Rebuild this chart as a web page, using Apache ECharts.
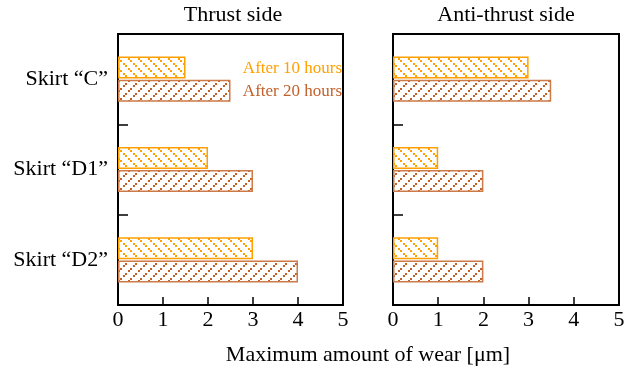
<!DOCTYPE html>
<html>
<head>
<meta charset="utf-8">
<style>
  html, body { margin: 0; padding: 0; background: #fff; }
  #chart { width: 636px; height: 372px; }
</style>
<script src="https://cdn.jsdelivr.net/npm/echarts@6/dist/echarts.min.js"></script>
</head>
<body>
<div id="chart"></div>
<script>
// Skirt variants (top to bottom)
const categories = ['Skirt \u201cC\u201d', 'Skirt \u201cD1\u201d', 'Skirt \u201cD2\u201d'];
const seriesNames = ['After 10 hours', 'After 20 hours'];

// Maximum wear [µm], thrust side
const thrust10h = [1.5, 2, 3];
const thrust20h = [2.5, 3, 4];
// Maximum wear [µm], anti-thrust side
const anti10h = [3, 1, 1];
const anti20h = [3.5, 2, 2];

const xTicks = { min: 0, max: 5, interval: 1 };

const ORANGE = '#FFA000';
const BROWN = '#C2602A';
const SERIF = '"Liberation Serif", "DejaVu Serif", serif';

// Dotted diagonal hatch tile; dir = 1 runs down-right, -1 runs down-left
function hatch(color, dir) {
  const n = 10, s = 2;
  const steps = [0, 3, 5, 8];
  const c = document.createElement('canvas');
  c.width = n; c.height = n;
  const g = c.getContext('2d');
  g.fillStyle = '#fff';
  g.fillRect(0, 0, n, n);
  g.fillStyle = color;
  steps.forEach(function (p) {
    const x = dir > 0 ? p : n - s - p;
    g.fillRect(((x % n) + n) % n, p, s, s);
  });
  return { image: c, repeat: 'repeat' };
}

const fill10 = hatch(ORANGE, 1);
const fill20 = hatch(BROWN, -1);

const chart = echarts.init(document.getElementById('chart'), null, { renderer: 'canvas' });

const gridBase = { top: 34, height: 271, show: true, borderColor: '#000', borderWidth: 2, backgroundColor: 'transparent' };

function xAxis(gridIndex) {
  return {
    type: 'value', gridIndex, min: xTicks.min, max: xTicks.max, interval: xTicks.interval,
    axisLine: { show: true, lineStyle: { color: '#000', width: 2 } },
    axisTick: { show: true, inside: true, length: 8, lineStyle: { color: '#000', width: 1.5 } },
    axisLabel: { color: '#000', fontFamily: SERIF, fontSize: 22, margin: 4, showMinLabel: true, showMaxLabel: true },
    splitLine: { show: false }
  };
}

function yAxis(gridIndex, showLabels) {
  return {
    type: 'category', gridIndex, data: categories, inverse: true,
    axisLine: { show: true, lineStyle: { color: '#000', width: 2 } },
    axisTick: { show: true, inside: true, length: 10, alignWithLabel: false, lineStyle: { color: '#000', width: 1.5 } },
    axisLabel: { show: showLabels, color: '#000', fontFamily: SERIF, fontSize: 22, margin: 10 },
    splitLine: { show: false }
  };
}

function bar(name, data, axisIndex, fill, border) {
  return {
    name, type: 'bar', data, xAxisIndex: axisIndex, yAxisIndex: axisIndex,
    barWidth: 22, barGap: '5%',
    itemStyle: { color: fill, borderColor: border, borderWidth: 1.5 },
    emphasis: { disabled: true },
    animation: false
  };
}

chart.setOption({
  animation: false,
  grid: [
    Object.assign({ left: 118, width: 225 }, gridBase),
    Object.assign({ left: 393, width: 226 }, gridBase)
  ],
  xAxis: [xAxis(0), xAxis(1)],
  yAxis: [yAxis(0, true), yAxis(1, false)],
  legend: {
    orient: 'vertical', right: 284, top: 55,
    icon: 'none', itemWidth: 0, itemHeight: 17, itemGap: 6, align: 'right',
    selectedMode: false,
    textStyle: { fontFamily: SERIF, fontSize: 17 },
    data: [
      { name: seriesNames[0], textStyle: { color: ORANGE } },
      { name: seriesNames[1], textStyle: { color: BROWN } }
    ]
  },
  graphic: [
    { type: 'text', x: 233, y: 15, style: { text: 'Thrust side', font: '22px ' + SERIF, fill: '#000', align: 'center', verticalAlign: 'middle' } },
    { type: 'text', x: 506, y: 15, style: { text: 'Anti-thrust side', font: '22px ' + SERIF, fill: '#000', align: 'center', verticalAlign: 'middle' } },
    { type: 'text', x: 368, y: 355, style: { text: 'Maximum amount of wear [\u03bcm]', font: '22px ' + SERIF, fill: '#000', align: 'center', verticalAlign: 'middle' } }
  ],
  series: [
    bar(seriesNames[0], thrust10h, 0, fill10, ORANGE),
    bar(seriesNames[1], thrust20h, 0, fill20, '#CC7A48'),
    bar(seriesNames[0], anti10h, 1, fill10, ORANGE),
    bar(seriesNames[1], anti20h, 1, fill20, '#CC7A48')
  ]
});
</script>
</body>
</html>
